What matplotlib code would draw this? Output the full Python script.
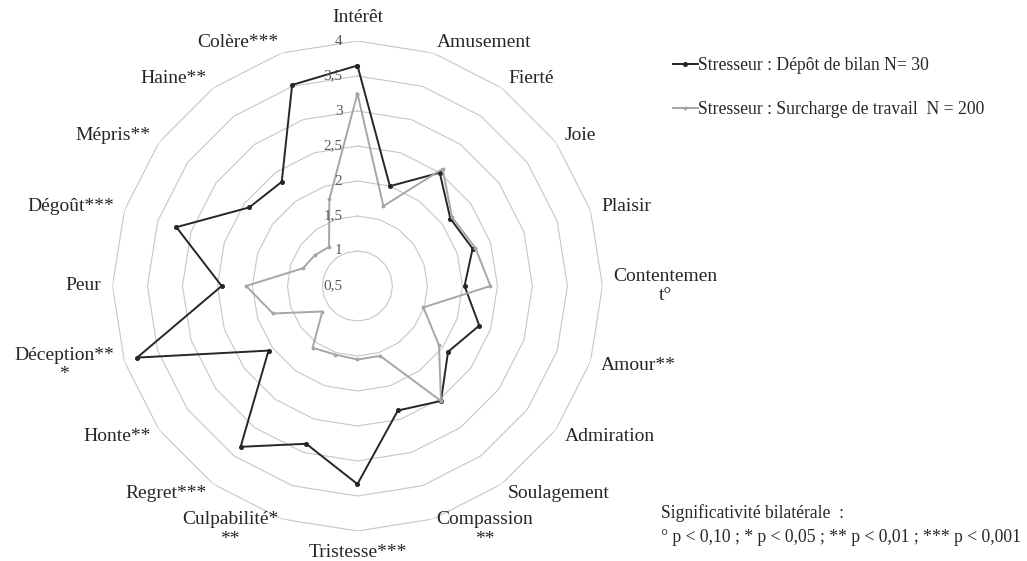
import numpy as np
import matplotlib
matplotlib.use('Agg')
import matplotlib.pyplot as plt
from matplotlib.transforms import offset_copy

# Emotions (Excel wrapped some of the long labels)
categories = ['Intérêt', 'Amusement', 'Fierté', 'Joie', 'Plaisir', 'Contentemen\nt°',
              'Amour**', 'Admiration', 'Soulagement', 'Compassion\n**', 'Tristesse***',
              'Culpabilité*\n**', 'Regret***', 'Honte**', 'Déception**\n*', 'Peur',
              'Dégoût***', 'Mépris**', 'Haine**', 'Colère***']

# Mean scores
depot_bilan = [3.65, 2.00, 2.50, 2.14, 2.23, 2.03, 2.33, 2.10, 2.53, 2.37,
               3.33, 2.87, 3.34, 2.07, 3.81, 2.44, 3.22, 2.41, 2.34, 3.52]
surcharge = [3.25, 1.70, 2.57, 2.17, 2.27, 2.40, 1.49, 1.94, 2.53, 1.55,
             1.55, 1.53, 1.59, 1.12, 1.77, 2.09, 1.32, 1.25, 1.19, 1.80]

series_labels = ['Stresseur : Dépôt de bilan N= 30',
                 'Stresseur : Surcharge de travail  N = 200']

tick_values = [0.5, 1, 1.5, 2, 2.5, 3, 3.5, 4]
tick_labels = ['0,5', '1', '1,5', '2', '2,5', '3', '3,5', '4']

plt.rcParams['font.family'] = ['Liberation Serif', 'DejaVu Serif']

fig = plt.figure(figsize=(10.27, 5.61), dpi=100)
ax = fig.add_axes([0.1095, 0.0535, 0.4771, 0.8734], projection='polar')
ax.set_theta_zero_location('N')
ax.set_theta_direction(-1)
ax.set_ylim(0.5, 4)
ax.set_xticks([])
ax.set_yticks([])
ax.grid(False)
ax.spines['polar'].set_visible(False)
ax.patch.set_visible(False)

n = len(categories)
angles = np.arange(n) * 2 * np.pi / n
closed = np.append(angles, angles[0])

# polygonal rings
for v in tick_values[1:]:
    ax.plot(closed, [v] * (n + 1), color='#c6c6c6', lw=0.8, zorder=1)

l1, = ax.plot(closed, depot_bilan + depot_bilan[:1], color='#262626', lw=1.4,
              marker='o', ms=2.6, zorder=3)
l2, = ax.plot(closed, surcharge + surcharge[:1], color='#a6a6a6', lw=1.4,
              marker='o', ms=1.8, zorder=3)

# radial tick labels along the top axis
trans = offset_copy(ax.transData, fig=fig, x=-15, y=0, units='dots')
for v, lab in zip(tick_values, tick_labels):
    ax.text(0, v, lab, transform=trans, ha='right', va='center',
            color='#595959', fontsize=11)

# category labels
for a, lab in zip(angles, categories):
    deg = np.degrees(a)
    if np.isclose(deg, 0):
        ax.text(a, 4.33, lab, ha='center', va='center', fontsize=14, color='#262626')
    elif np.isclose(deg, 180):
        ax.text(a, 4.31, lab, ha='center', va='center', fontsize=14, color='#262626')
    else:
        ha = 'left' if deg < 180 else 'right'
        ax.text(a, 4.157, lab, ha=ha, va='center', multialignment='center',
                fontsize=14, color='#262626')

fig.legend([l1, l2], series_labels, loc='upper left',
           bbox_to_anchor=(673 / 1027, 1 - 57 / 561), bbox_transform=fig.transFigure,
           frameon=False, fontsize=12.7, handlelength=1.4, handletextpad=0.0,
           labelspacing=1.54, borderpad=0, borderaxespad=0, labelcolor='#262626')

fig.text(661 / 1027, 1 - 513 / 561, 'Significativité bilatérale  :',
         fontsize=12.7, va='center', color='#262626')
fig.text(661 / 1027, 1 - 538 / 561,
         '° p < 0,10 ; * p < 0,05 ; ** p < 0,01 ; *** p < 0,001',
         fontsize=12.7, va='center', color='#262626')

fig.savefig('out.png', dpi=100)
